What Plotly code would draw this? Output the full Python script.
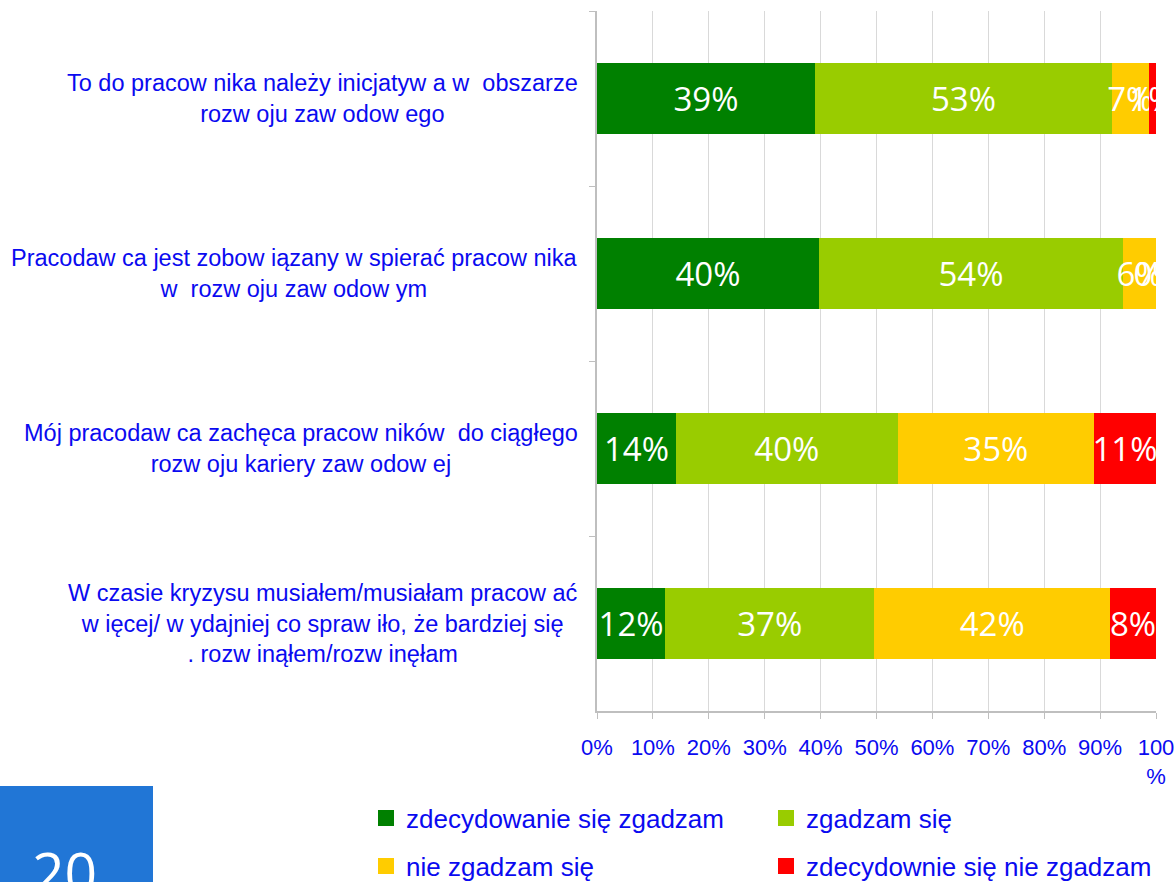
import plotly.graph_objects as go

categories = [
    "To do pracow nika należy inicjatyw a w  obszarze<br>rozw oju zaw odow ego",
    "Pracodaw ca jest zobow iązany w spierać pracow nika<br>w  rozw oju zaw odow ym",
    "Mój pracodaw ca zachęca pracow ników  do ciągłego<br>rozw oju kariery zaw odow ej",
    "W czasie kryzysu musiałem/musiałam pracow ać<br>w ięcej/ w ydajniej co spraw iło, że bardziej się<br>. rozw inąłem/rozw inęłam",
]
cat_ids = ["q1", "q2", "q3", "q4"]

series_names = [
    "zdecydowanie się zgadzam",
    "zgadzam się",
    "nie zgadzam się",
    "zdecydownie się nie zgadzam",
]
zdecydowanie_tak = [39.0, 39.7, 14.1, 12.2]
tak = [53.1, 54.4, 39.7, 37.4]
nie = [6.6, 5.9, 35.1, 42.2]
zdecydowanie_nie = [1.3, 0.05, 11.1, 8.2]
series_values = [zdecydowanie_tak, tak, nie, zdecydowanie_nie]
series_colors = ["#008000", "#99CC00", "#FFCC00", "#FF0000"]

x_tickvals = [0, 10, 20, 30, 40, 50, 60, 70, 80, 90, 100]
x_ticktext = ["0%", "10%", "20%", "30%", "40%", "50%", "60%", "70%", "80%", "90%", "100<br>%"]

W, H = 1175, 882
L, R, T, B = 597, 19, 11, 171
pw, ph = W - L - R, H - T - B

def px_x(p):
    return (p - L) / pw

def px_y(p):
    return (H - B - p) / ph

BLUE = "#0A0AF0"
FONT = "Liberation Sans, Arial, sans-serif"

fig = go.Figure()
for i, (name, vals, col) in enumerate(zip(series_names, series_values, series_colors)):
    fig.add_trace(go.Bar(
        name=name,
        y=cat_ids,
        x=vals,
        orientation="h",
        marker=dict(color=col, line=dict(width=0)),
        width=0.41,
        text=[f"{v:.0f}%" for v in vals],
        textposition="inside",
        insidetextanchor="middle",
        textangle=0,
        textfont=dict(color="white", size=33, family="Open Sans, sans-serif"),
        showlegend=False,
        hoverinfo="skip",
    ))

# legend entries (square swatches)
for i, (name, col) in enumerate(zip(series_names, series_colors)):
    fig.add_trace(go.Scatter(
        name=name, x=[None], y=[None], mode="markers",
        marker=dict(symbol="square", size=16, color=col, line=dict(width=0)),
        legend="legend" if i < 2 else "legend2",
        hoverinfo="skip",
    ))

for cid, label in zip(cat_ids, categories):
    fig.add_annotation(
        x=px_x(580), xref="paper", xanchor="right",
        y=cid, yref="y", yanchor="middle",
        text=label, align="center", showarrow=False,
        font=dict(size=23.5, color=BLUE, family=FONT),
    )

# page-number box
fig.add_shape(type="rect", xref="paper", yref="paper",
              x0=px_x(0), x1=px_x(153), y0=px_y(882), y1=px_y(786),
              fillcolor="#2176D6", line=dict(width=0), layer="above")
fig.add_annotation(x=px_x(64), xref="paper", y=px_y(872), yref="paper",
                   xanchor="center", yanchor="middle", text="20", showarrow=False,
                   font=dict(size=57, color="white", family="Open Sans, sans-serif"))

legend_common = dict(
    orientation="h", xanchor="left", yanchor="middle",
    font=dict(size=26, color=BLUE, family=FONT),
    entrywidth=355, entrywidthmode="pixels", itemsizing="trace",
    bgcolor="rgba(0,0,0,0)", borderwidth=0, traceorder="normal",
)

fig.update_layout(
    width=W, height=H,
    margin=dict(l=L, r=R, t=T, b=B, autoexpand=False),
    paper_bgcolor="white", plot_bgcolor="white",
    barmode="stack", bargap=0.59,
    uniformtext=dict(minsize=33, mode="show"),
    showlegend=True,
    legend=dict(x=px_x(366), y=px_y(818), **legend_common),
    legend2=dict(x=px_x(366), y=px_y(866), **legend_common),
    xaxis=dict(
        range=[0, 100], tickvals=x_tickvals, ticktext=x_ticktext,
        showgrid=True, gridcolor="#D9D9D9", gridwidth=1,
        showline=True, linecolor="#BFBFBF", linewidth=2,
        ticks="outside", ticklen=6, tickcolor="#BFBFBF",
        tickfont=dict(size=22, color=BLUE, family=FONT),
        ticklabelstandoff=10, zeroline=False, fixedrange=True,
    ),
    yaxis=dict(
        type="category", categoryorder="array", categoryarray=cat_ids,
        autorange="reversed", showticklabels=False,
        showline=True, linecolor="#BFBFBF", linewidth=2,
        ticks="outside", ticklen=6, tickcolor="#BFBFBF", tickson="boundaries",
        showgrid=False, zeroline=False, fixedrange=True,
    ),
)

fig.write_html("out.html", config={"displayModeBar": False},
               post_script="document.body.style.margin='0';")
